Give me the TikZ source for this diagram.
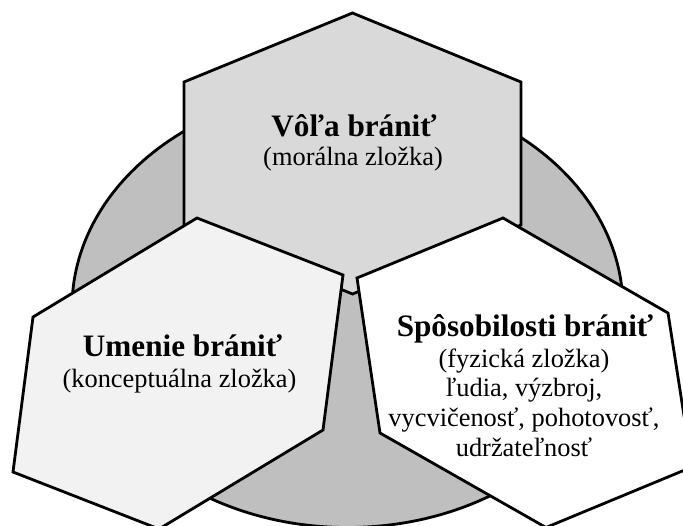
\documentclass[tikz,border=0pt]{standalone}
\usepackage{fontspec}
\setmainfont{Liberation Serif}
\definecolor{ringgray}{HTML}{BFBFBF}
\definecolor{topgray}{HTML}{D9D9D9}
\definecolor{leftgray}{HTML}{F2F2F2}
\begin{document}
\begin{tikzpicture}[x=1pt,y=-1pt,
  outline/.style={draw=black,line width=2.8pt,line join=miter},
  titletext/.style={anchor=base,font=\fontsize{31.2}{38}\selectfont\bfseries,inner sep=0pt},
  bodytext/.style={anchor=base,font=\fontsize{26.4}{29.8}\selectfont,align=center,inner sep=0pt}]
\useasboundingbox (0,0) rectangle (683,526);
\clip (0,0) rectangle (683,526);
\fill[white] (0,0) rectangle (683,526);

% background ring
\draw[outline,fill=ringgray] (347.5,308) ellipse [x radius=275.5, y radius=219.5];

% three hexagons
\draw[outline,fill=topgray] (352.5,13) -- (521,82) -- (521,225) -- (352.5,294)
  -- (184,225) -- (184,82) -- cycle;
\draw[outline,fill=leftgray] (197,218) -- (343,275) -- (323,430) -- (159,529)
  -- (13,472) -- (33,317) -- cycle;
\draw[outline,fill=white] (503,218) -- (668,313) -- (692,467) -- (546,527.5)
  -- (380,433) -- (357,278) -- cycle;

% labels (a multi-line node sits on the baseline of its last line)
\node[titletext] (willT) at (354,136.7) {Vôľa brániť};
\node[bodytext]  (willB) at (353,166) {(morálna zložka)};

\node[titletext] (artT) at (182.5,357) {Umenie brániť};
\node[bodytext]  (artB) at (179.5,388) {(konceptuálna zložka)};

\node[titletext] (capT) at (525,336.5) {Spôsobilosti brániť};
\node[bodytext]  (capB) at (524,456.5) {(fyzická zložka)\\ľudia, výzbroj,\\vycvičenosť, pohotovosť,\\udržateľnosť};
\end{tikzpicture}
\end{document}
